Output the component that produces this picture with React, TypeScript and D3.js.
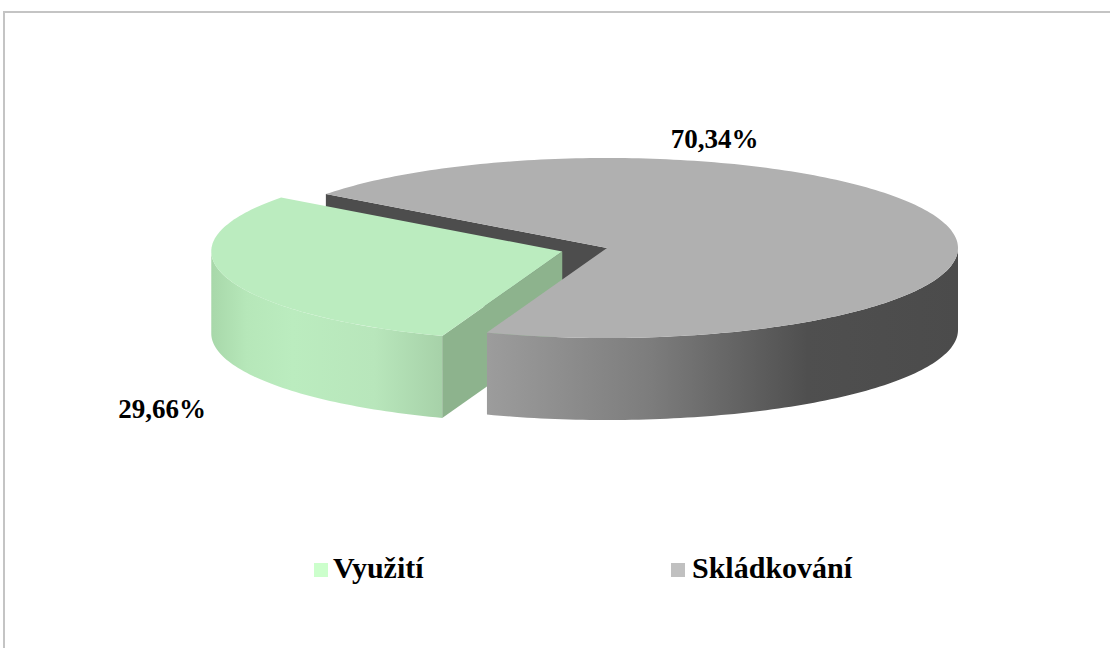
import React from "react";
import * as d3 from "d3";

const categories = ["Využití", "Skládkování"];
const values = [29.66, 70.34];
const labels = ["29,66%", "70,34%"];
const topColors = ["#bbecbf", "#b0b0b0"];
const cutColors = ["#8db38d", "#4d4d4d"];
const legendColors = ["#ccffcc", "#c0c0c0"];

const W = 1110;
const H = 648;
const cx = 607;
const cy = 248;
const rx = 351;
const ry = 90;
const depth = 82;
const explode = [0.133, 0];
const startDeg = -160;

function proj(a: number, r = 1, ox = 0, oy = 0, dz = 0): [number, number] {
  return [cx + ox + rx * r * Math.sin(a), cy + oy - ry * r * Math.cos(a) + dz];
}

function arcPts(a1: number, a2: number, ox: number, oy: number, dz: number) {
  const n = Math.max(2, Math.ceil(Math.abs(a2 - a1) / 0.02));
  const pts: [number, number][] = [];
  for (let i = 0; i <= n; i++) {
    const a = a1 + ((a2 - a1) * i) / n;
    pts.push(proj(a, 1, ox, oy, dz));
  }
  return pts;
}

function frontRange(a1: number, a2: number): [number, number] | null {
  const TAU = Math.PI * 2;
  for (let k = -2; k <= 2; k++) {
    const lo = Math.PI / 2 + k * TAU;
    const hi = (3 * Math.PI) / 2 + k * TAU;
    const s = Math.max(a1, lo);
    const e = Math.min(a2, hi);
    if (e > s) return [s, e];
  }
  return null;
}

const toPath = (pts: [number, number][]) =>
  "M" + pts.map((p) => p[0].toFixed(2) + "," + p[1].toFixed(2)).join("L") + "Z";

export default function App() {
  const pie = d3
    .pie<number>()
    .sort(null)
    .startAngle((startDeg * Math.PI) / 180)
    .endAngle((startDeg * Math.PI) / 180 + Math.PI * 2);
  const arcs = pie(values);

  const slices = arcs.map((d, i) => {
    const mid = (d.startAngle + d.endAngle) / 2;
    const e = explode[i];
    const ox = rx * e * Math.sin(mid);
    const oy = -ry * e * Math.cos(mid);
    const apex: [number, number] = [cx + ox, cy + oy];
    const top = toPath([apex, ...arcPts(d.startAngle, d.endAngle, ox, oy, 0)]);
    const fr = frontRange(d.startAngle, d.endAngle);
    let side = "";
    if (fr) {
      const upper = arcPts(fr[0], fr[1], ox, oy, 0);
      const lower = arcPts(fr[0], fr[1], ox, oy, depth).reverse();
      side = toPath([...upper, ...lower]);
    }
    const cutFace = (a: number) => {
      const rim = proj(a, 1, ox, oy, 0);
      return toPath([apex, rim, [rim[0], rim[1] + depth], [apex[0], apex[1] + depth]]);
    };
    return { d, i, top, side, cutStart: cutFace(d.startAngle), cutEnd: cutFace(d.endAngle) };
  });

  const green = slices[0];
  const gray = slices[1];

  return (
    <svg
      width={W}
      height={H}
      style={{ position: "absolute", left: 0, top: 0, background: "#fff" }}
      fontFamily="'Liberation Serif', 'Times New Roman', serif"
    >
      <defs>
        <linearGradient id="graySide" gradientUnits="userSpaceOnUse" x1={488} y1={0} x2={958} y2={0}>
          <stop offset="0" stopColor="#9c9c9c" />
          <stop offset="0.35" stopColor="#7c7c7c" />
          <stop offset="0.68" stopColor="#4f4f4f" />
          <stop offset="1" stopColor="#4b4b4b" />
        </linearGradient>
        <linearGradient id="greenSide" gradientUnits="userSpaceOnUse" x1={212} y1={0} x2={444} y2={0}>
          <stop offset="0" stopColor="#a8d8aa" />
          <stop offset="0.15" stopColor="#b6e7b9" />
          <stop offset="0.35" stopColor="#bbecbf" />
          <stop offset="0.7" stopColor="#b8e6bb" />
          <stop offset="1" stopColor="#a6d1a8" />
        </linearGradient>
      </defs>
      <rect x={4} y={12} width={1200} height={700} fill="none" stroke="#c4c4c4" strokeWidth={2} />

      {/* gray slice cut face (visible through the gap) */}
      <path d={gray.cutStart} fill={cutColors[1]} />

      {/* green slice */}
      <path d={green.side} fill="url(#greenSide)" />
      <path d={green.cutStart} fill={cutColors[0]} />
      <path d={green.top} fill={topColors[0]} />

      {/* gray slice */}
      <path d={gray.side} fill="url(#graySide)" />
      <path d={gray.top} fill={topColors[1]} />

      {/* data labels */}
      <text x={162} y={418} textAnchor="middle" fontWeight="bold" fontSize={27} fill="#000">
        {labels[0]}
      </text>
      <text x={714.5} y={148} textAnchor="middle" fontWeight="bold" fontSize={27} fill="#000">
        {labels[1]}
      </text>

      {/* legend */}
      {categories.map((c, i) => {
        const lx = [314, 671][i];
        return (
          <g key={c}>
            <rect x={lx} y={563} width={14} height={14} fill={legendColors[i]} />
            <text x={[333, 692][i]} y={578} fontWeight="bold" fontSize={30} fill="#000">
              {c}
            </text>
          </g>
        );
      })}
    </svg>
  );
}
